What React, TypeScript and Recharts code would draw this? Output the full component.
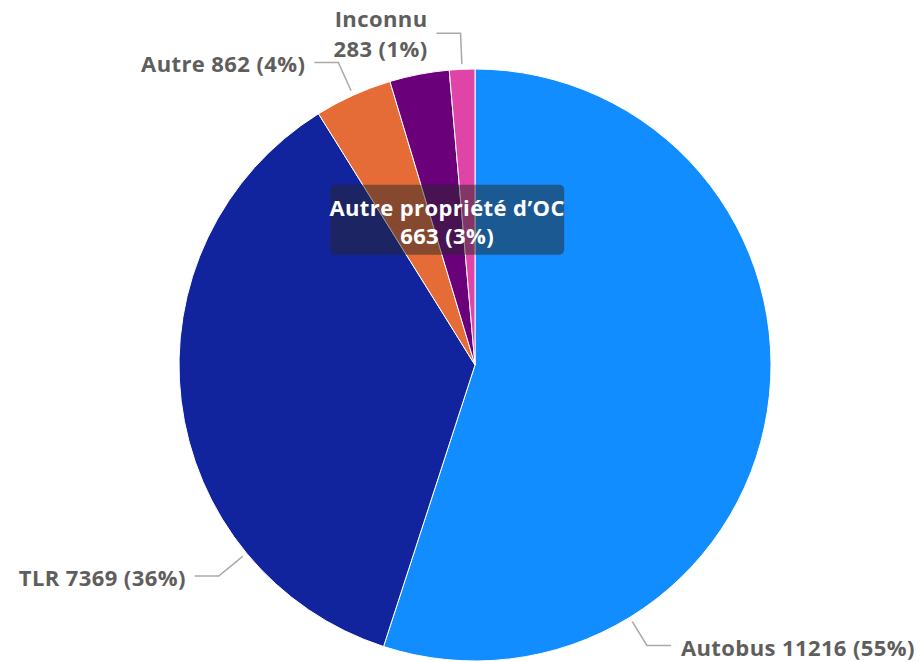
import React from "react";
import { PieChart, Pie, Cell } from "recharts";

const categories = ["Autobus", "TLR", "Autre", "Autre propriété d’OC", "Inconnu"];
const values = [11216, 7369, 862, 663, 283];
const percents = ["55%", "36%", "4%", "3%", "1%"];
const colors = ["#118DFF", "#12239E", "#E66C37", "#6B007B", "#E044A7"];

const data = categories.map((name, i) => ({ name, value: values[i], pct: percents[i] }));

const RAD = Math.PI / 180;
const FONT = "'Open Sans', 'Noto Sans', sans-serif";
const GREY = "#605E5C";
const FS = 22;
const LS = 0.4;

// where along each slice the leader line starts (0..1 from start angle)
const anchorFrac = [0.75, 0.25, 0.5, 0.5, 0.5];

const polar = (cx: number, cy: number, r: number, a: number) => ({
  x: cx + Math.cos(-a * RAD) * r,
  y: cy + Math.sin(-a * RAD) * r,
});

const renderLabel = (props: any) => {
  const { cx, cy, outerRadius, startAngle, endAngle, midAngle, index, payload } = props;
  const d = payload?.payload ?? payload;
  const name = d.name;
  const text = `${d.value} (${d.pct})`;
  const common = {
    fontFamily: FONT,
    fontWeight: 700,
    fontSize: FS,
    letterSpacing: LS,
    dominantBaseline: "central" as const,
  };

  if (index === 3) {
    const p = polar(cx, cy, outerRadius * 0.5, midAngle);
    const w = 234;
    const h = 70;
    return (
      <g>
        <rect x={p.x - w / 2} y={p.y - h / 2} width={w} height={h} rx={5} fill="rgba(38,38,40,0.5)" />
        <text x={p.x} y={p.y - 13} textAnchor="middle" fill="#fff" {...common}>
          {name}
        </text>
        <text x={p.x} y={p.y + 15} textAnchor="middle" fill="#fff" {...common}>
          {text}
        </text>
      </g>
    );
  }

  const a = startAngle + (endAngle - startAngle) * anchorFrac[index];
  const p0 = polar(cx, cy, outerRadius + 5, a);
  const p1 = polar(cx, cy, outerRadius + (index === 0 ? 33 : 36), a);
  const right = p1.x > cx;
  const p2 = { x: p1.x + (right ? 24 : -24), y: p1.y };
  const tx = p2.x + (right ? 10 : -9);
  const anchor = right ? "start" : "end";

  return (
    <g>
      <polyline
        points={`${p0.x},${p0.y} ${p1.x},${p1.y} ${p2.x},${p2.y}`}
        fill="none"
        stroke="#ABA9A7"
        strokeWidth={1.5}
      />
      {index === 4 ? (
        <>
          <text x={tx} y={p2.y - 15} textAnchor={anchor} fill={GREY} {...common}>
            {name}
          </text>
          <text x={tx} y={p2.y + 15} textAnchor={anchor} fill={GREY} {...common}>
            {text}
          </text>
        </>
      ) : (
        <text x={tx} y={p2.y + 1} textAnchor={anchor} fill={GREY} {...common}>
          {`${name} ${text}`}
        </text>
      )}
    </g>
  );
};

export default function App() {
  return (
    <div style={{ position: "absolute", left: 0, top: 0, background: "#fff" }}>
      <PieChart width={923} height={662} margin={{ top: 0, right: 0, bottom: 0, left: 0 }}>
        <Pie
          data={data}
          dataKey="value"
          nameKey="name"
          cx={475}
          cy={365}
          outerRadius={296}
          startAngle={90}
          endAngle={-270}
          stroke="#fff"
          strokeWidth={1}
          label={renderLabel}
          labelLine={false}
          isAnimationActive={false}
        >
          {data.map((_, i) => (
            <Cell key={i} fill={colors[i]} />
          ))}
        </Pie>
      </PieChart>
    </div>
  );
}
